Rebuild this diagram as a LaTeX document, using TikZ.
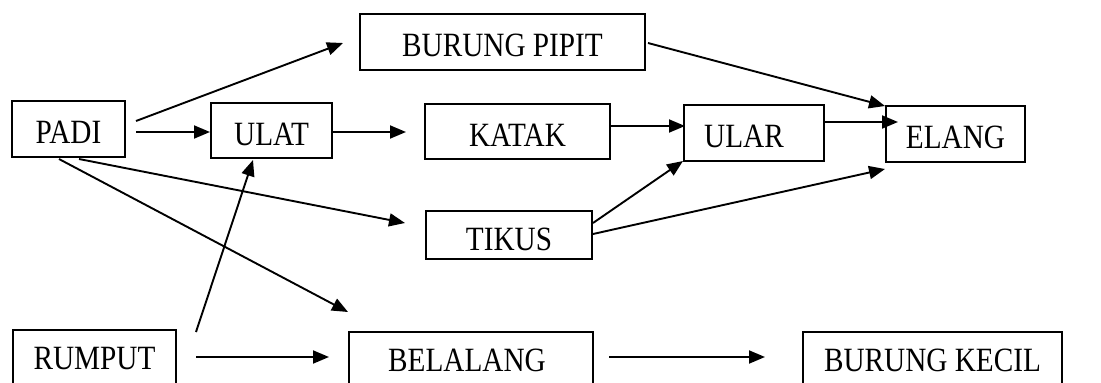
\documentclass[tikz,border=0pt]{standalone}
\usepackage{fontspec}
\setmainfont{Liberation Serif}[FakeStretch=0.86]
\usetikzlibrary{arrows.meta,calc}
\begin{document}
\begin{tikzpicture}[x=1pt,y=-1pt,
  box/.style={draw,line width=2pt,anchor=north west,inner sep=0pt,
    font=\fontsize{34}{37}\selectfont,text height=29pt,text depth=0pt},
  lbl/.style={font=\fontsize{34}{37}\selectfont,anchor=base},
  arr/.style={line width=1.9pt,-{Triangle[length=16pt,width=13pt]}}]
\clip (0,0) rectangle (1101,383);
\fill[white] (0,0) rectangle (1101,383);
\node[box,minimum width=113pt,minimum height=56pt] (padi) at (11,100) {PADI};
\node[box,minimum width=121pt,minimum height=55pt] (ulat) at (210,102) {ULAT};
\node[box,minimum width=285pt,minimum height=56pt] (pipit) at (359,13) {BURUNG PIPIT};
\node[box,minimum width=185pt,minimum height=55pt] (katak) at (424,103) {KATAK};
\node[box,minimum width=140pt,minimum height=56pt] (ular) at (683,104) {ULAR\hspace*{20pt}};
\node[box,minimum width=139pt,minimum height=56pt] (elang) at (885,105) {ELANG};
\node[box,minimum width=166pt,minimum height=48pt,text height=31pt] (tikus) at (425,210) {TIKUS};
\node[box,minimum width=163pt,minimum height=70pt] (rumput) at (12,329) {};
\node[box,minimum width=244pt,minimum height=70pt] (belalang) at (348,331) {};
\node[box,minimum width=259pt,minimum height=70pt] (kecil) at (802,331) {};
\node[lbl] at ($(rumput.north)+(0,40)$) {RUMPUT};
\node[lbl] at ($(belalang.north)+(-4,40)$) {BELALANG};
\node[lbl] at ($(kecil.north)+(0,40)$) {BURUNG KECIL};
% connectors
\draw[arr] ($(padi.north east)+(10,21)$) -- ($(pipit.west)+(-16,1)$);
\draw[arr] ($(padi.east)+(10,3)$) -- ($(ulat.west)+(0,1.5)$);
\draw[arr] ($(ulat.east)+(0,1.5)$) -- ($(katak.west)+(-18,0.5)$);
\draw[arr] ($(katak.east)+(0,-5.5)$) -- ($(ular.west)+(2,-7)$);
\draw[arr] ($(ular.east)+(0,-11)$) -- ($(elang.west)+(13,-12)$);
\draw[arr] ($(pipit.east)+(2,1)$) -- ($(elang.north west)+(0,1)$);
\draw[arr] ($(tikus.east)+(0,-12)$) -- ($(ular.south west)+(0,-1)$);
\draw[arr] ($(tikus.east)+(0,-1)$) -- ($(elang.south west)+(0,6)$);
\draw[arr] ($(padi.south)+(10.5,1)$) -- ($(tikus.west)+(-20,-12)$);
\draw[arr] ($(padi.south)+(-9.5,1)$) -- ($(belalang.north west)+(0,-19)$);
\draw[arr] ($(rumput.north east)+(19,3)$) -- ($(ulat.south)+(-18.5,1)$);
\draw[arr] ($(rumput.north east)+(19,28)$) -- ($(belalang.north west)+(-19,26)$);
\draw[arr] ($(belalang.north east)+(15,26)$) -- ($(kecil.north west)+(-37,26)$);
\end{tikzpicture}
\end{document}
